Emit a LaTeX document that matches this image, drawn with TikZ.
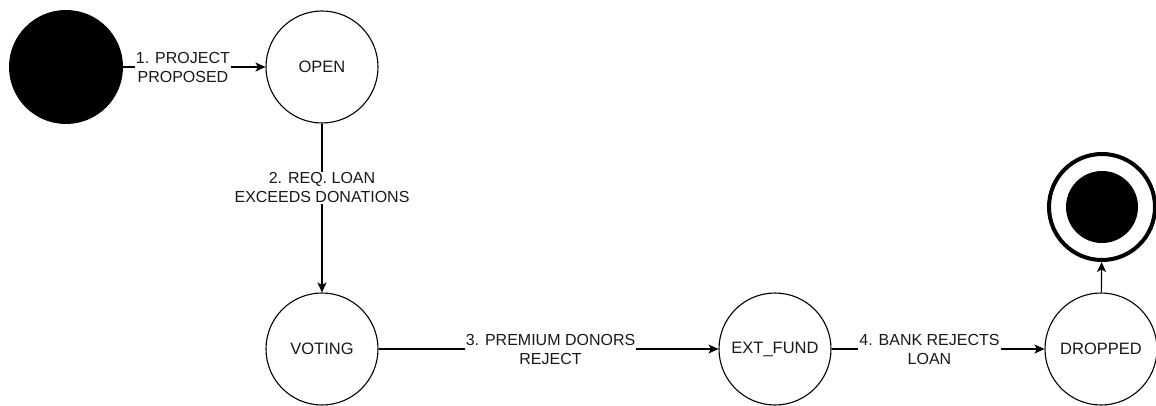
\documentclass[tikz,border=0pt]{standalone}
\usepackage{fontspec}
\setmainfont{Liberation Sans}
\usetikzlibrary{arrows.meta}
\begin{document}
\begin{tikzpicture}[x=1pt,y=-1pt,
  state/.style={circle,draw=black,line width=1.1pt,fill=white,minimum size=112pt,inner sep=0pt,
    font=\fontsize{16.5}{19}\selectfont,text=black!90},
  startstate/.style={circle,fill=black,minimum size=114pt,inner sep=0pt},
  trans/.style={line width=1.1pt,-{Stealth[length=10pt,width=9pt,inset=2.5pt]}},
  tlabel/.style={fill=white,align=center,inner sep=1pt,font=\fontsize{16}{19}\selectfont,text=black!90}]
\useasboundingbox (0,0) rectangle (1156,406);

% states
\node[startstate] (init) at (66,67) {};
\node[state] (open) at (322,67) {OPEN};
\node[state] (voting) at (322,349) {VOTING};
\node[state] (ext) at (775,349) {EXT\_FUND};
\node[state] (dropped) at (1101,349) {DROPPED};

% final state: ring with filled core
\node[circle,draw=black,line width=4pt,fill=white,minimum size=106pt,inner sep=0pt] (final) at (1102,207) {};
\node[circle,fill=black,minimum size=72pt,inner sep=0pt] (finalcore) at (final.center) {};

% transitions
\draw[trans] (init) -- node[tlabel,pos=0.42] {1. PROJECT\\PROPOSED} (open);
\draw[trans] (open) -- node[tlabel,pos=0.38] {2. REQ. LOAN\\EXCEEDS DONATIONS} (voting);
\draw[trans] (voting) -- node[tlabel,pos=0.506] {3. PREMIUM DONORS\\REJECT} (ext);
\draw[trans] (ext) -- node[tlabel,pos=0.46] {4. BANK REJECTS\\LOAN} (dropped);
\draw[trans] (dropped) -- (final);
\end{tikzpicture}
\end{document}
